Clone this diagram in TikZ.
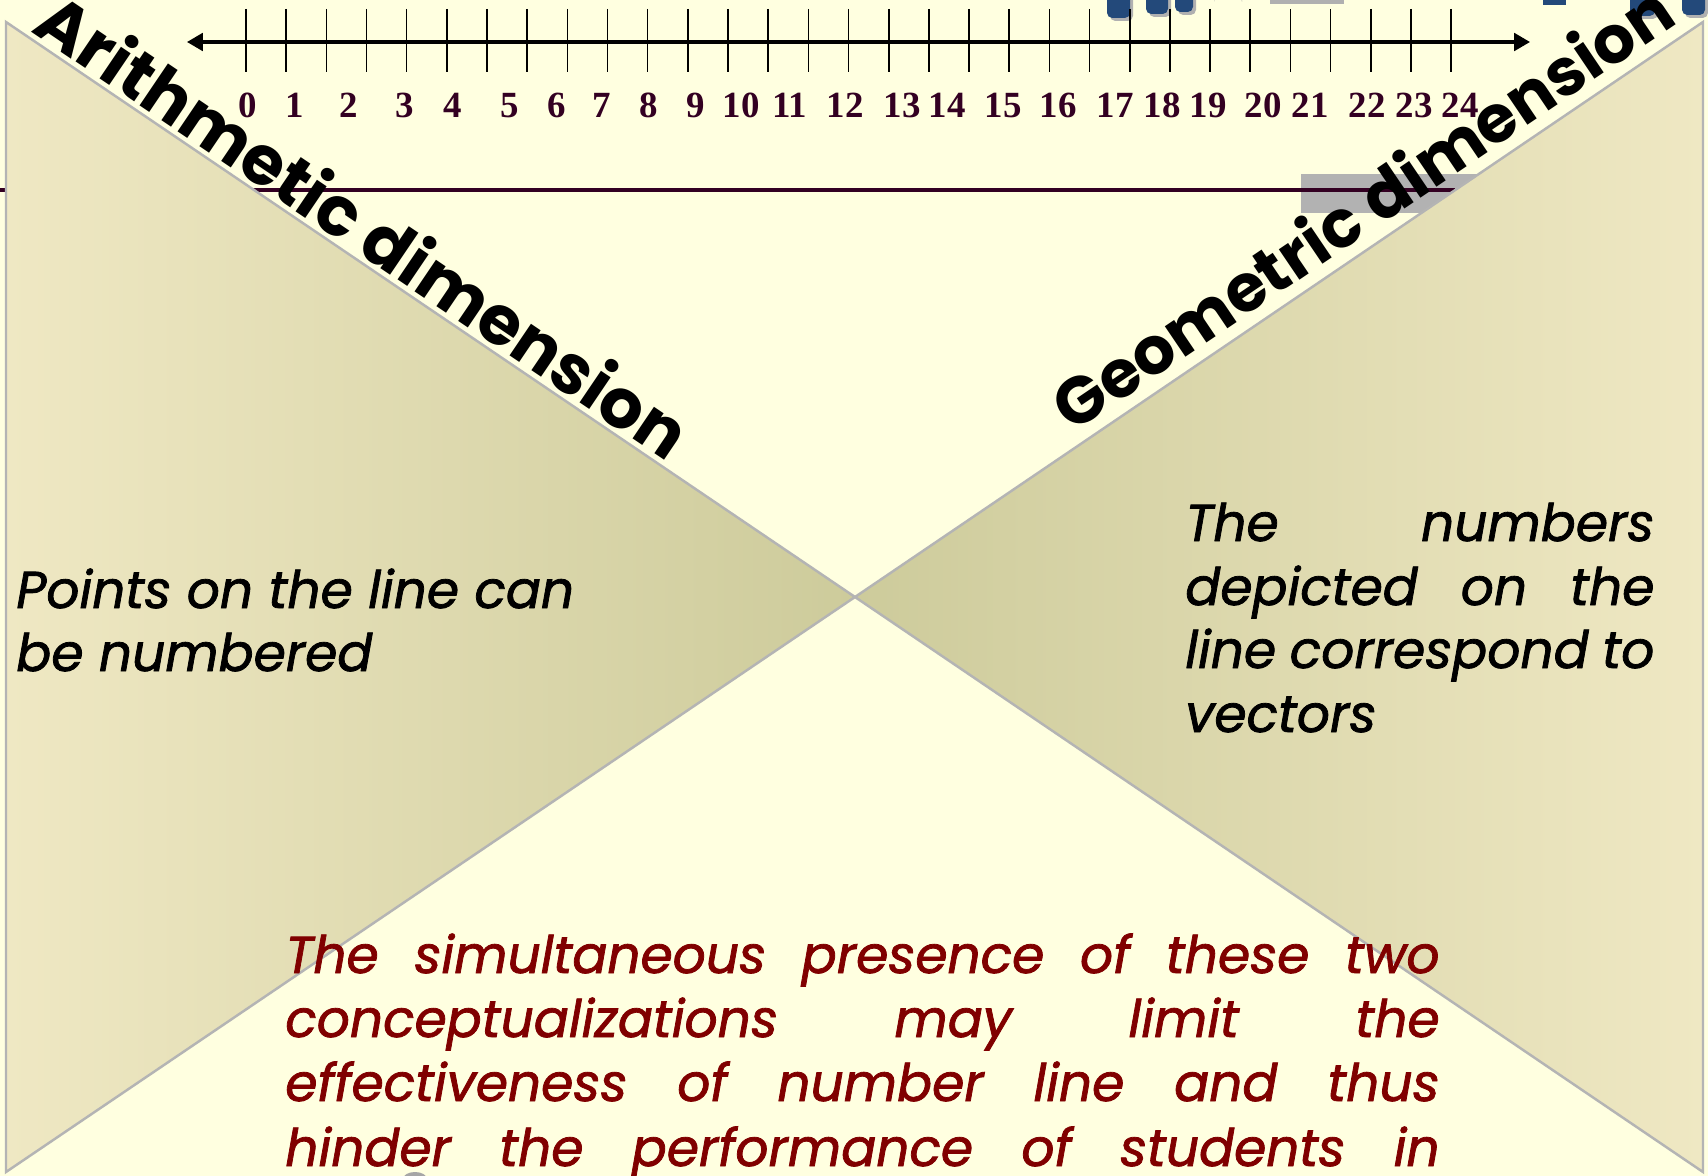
\documentclass[tikz,border=0pt]{standalone}
\usepackage{fontspec}
\setmainfont{Poppins}[ItalicFeatures={FakeBold=1.5}]
\newfontfamily\numfont{Liberation Serif}
\usetikzlibrary{arrows.meta}
\definecolor{bg}{HTML}{FFFFE0}
\definecolor{trilight}{HTML}{EFE8C3}
\definecolor{tridark}{HTML}{CDCB9B}
\definecolor{edgegray}{HTML}{B4B4B4}
\definecolor{numcol}{HTML}{330022}
\definecolor{darkred}{HTML}{800000}
\definecolor{titleblue}{HTML}{23497A}
\definecolor{shadowgray}{HTML}{B0B0B0}
\definecolor{rectgray}{HTML}{B2B2B2}
\tikzset{
  tickline/.style={line width=0.9pt, black},
  numlab/.style={font=\numfont\bfseries\fontsize{21}{21}\selectfont, text=numcol, anchor=base, inner sep=0pt},
  diaglab/.style={font=\bfseries\fontsize{39}{39}\selectfont, anchor=base, inner sep=0pt},
  bodytext/.style={font=\itshape\fontsize{29.5}{29.5}\selectfont, anchor=base west, inner sep=0pt},
  redtext/.style={bodytext, text=darkred},
  triedge/.style={draw=edgegray, line width=1.4pt, line join=miter},
  titlefrag/.style={fill=titleblue, rounded corners=3pt},
  titleshadow/.style={fill=shadowgray, rounded corners=3pt},
}
\begin{document}
\begin{tikzpicture}[x=0.02cm,y=-0.02cm]
\useasboundingbox (0,0) rectangle (1708,1176);
\clip (0,0) rectangle (1708,1176);
\fill[bg] (0,0) rectangle (1708,1176);

% cut-off title fragments (only their lower ends are in the picture)
\foreach \a/\b/\c in {1107/1130/18,1146/1168/14,1175/1193/12,1630/1655/16,1682/1705/15} {
  \fill[titleshadow] (\a+3,-5) rectangle (\b+3,\c+3);
  \fill[titlefrag] (\a,-5) rectangle (\b,\c);
}
\fill[shadowgray] (1214,-5) -- (1214,2) arc[start angle=180,end angle=360,x radius=14,y radius=12] -- (1242,-5) -- cycle;
\fill[titleblue] (1211,-5) -- (1211,0) arc[start angle=180,end angle=360,x radius=14,y radius=12] -- (1239,-5) -- cycle;
\fill[shadowgray] (1270,-5) rectangle (1344,4);
\fill[titleblue] (1543,-5) rectangle (1566,5);

% number line
\coordinate (nlL) at (187,42);
\coordinate (nlR) at (1530,42);
\foreach \i in {0,...,30} {
  \draw[tickline] ({246+40.17*\i},9) -- ({246+40.17*\i},72);
}
\draw[line width=1.8pt, {Triangle[length=9pt,width=10pt]}-{Triangle[length=9pt,width=10pt]}] (nlL) -- (nlR);
\foreach \n/\x in {0/248,1/295,2/349,3/405,4/453,5/510,6/557,7/602,8/649,9/696,10/741,11/790,12/845,13/902,14/947,15/1003,16/1058,17/1115,18/1162,19/1208,20/1263,21/1310,22/1367,23/1414,24/1460} {
  \node[numlab] (num\n) at (\x,118) {\n};
}

% gray rectangle and horizontal rule
\fill[rectgray] (1301,174) rectangle (1479,213);
\coordinate (hlL) at (0,190);
\coordinate (hlR) at (1455,190);
\draw[numcol, line width=2pt] (hlL) -- (hlR);

% triangles
\coordinate (C) at (855,597);
\coordinate (LT) at (6,22);
\coordinate (LB) at (6,1172);
\coordinate (RT) at (1703,22);
\coordinate (RB) at (1703,1172);
\shade[left color=trilight, right color=tridark] (LT) -- (C) -- (LB) -- cycle;
\shade[left color=tridark, right color=trilight] (RT) -- (C) -- (RB) -- cycle;
\draw[triedge] (LT) -- (C) -- (LB) -- cycle;
\draw[triedge] (RT) -- (C) -- (RB) -- cycle;

% diagonal labels
\node[diaglab, rotate=-34.1] (arith) at (349,247) {Arithmetic dimension};
\node[diaglab, rotate=34.1, font=\bfseries\fontsize{37.5}{37.5}\selectfont] (geom) at (1376,228) {Geometric dimension};

% left text
\node[bodytext] (p1) at (16,608) {Points on the line can};
\node[bodytext] (p2) at (16,671) {be numbered};

% right text
\node[bodytext] (q1) at (1185,541) {\makebox[267pt][s]{The numbers}};
\node[bodytext] (q2) at (1185,605) {\makebox[267pt][s]{depicted on the}};
\node[bodytext] (q3) at (1185,668) {\makebox[267pt][s]{line correspond to}};
\node[bodytext] (q4) at (1185,732) {vectors};

% bottom text
\node[redtext] (r1) at (285,973) {\makebox[657pt][s]{The simultaneous presence of these two}};
\node[redtext] (r2) at (285,1037) {\makebox[657pt][s]{conceptualizations may limit the}};
\node[redtext] (r3) at (285,1101) {\makebox[657pt][s]{effectiveness of number line and thus}};
\node[redtext] (r4) at (285,1166) {\makebox[657pt][s]{hinder the performance of students in}};

% small gray dome at bottom edge
\fill[gray!70] (415,1179) ellipse (12 and 7);
\end{tikzpicture}
\end{document}
